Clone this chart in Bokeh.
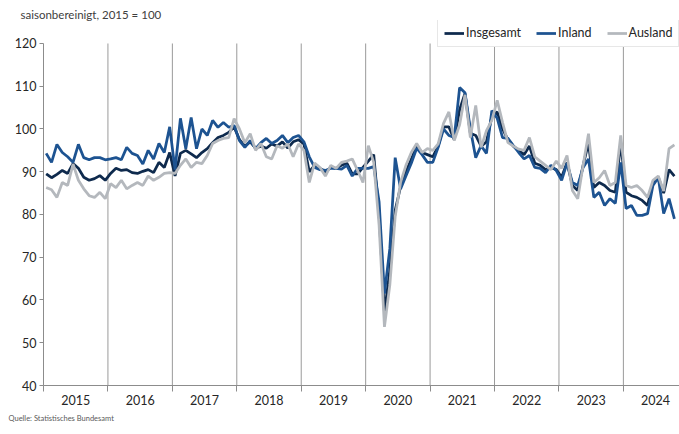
from bokeh.plotting import figure
from bokeh.models import Range1d, FixedTicker, Legend, LegendItem, Title
from bokeh.embed import file_html
from bokeh.resources import INLINE

years = [str(y) for y in range(2015, 2025)]
months = [f"{y}-{m:02d}" for y in range(2015, 2025) for m in range(1, 13)][:118]

insgesamt = [
    89.5, 88.6, 89.4, 90.3, 89.6, 91.9, 90.8, 88.7, 88.0, 88.4, 89.1, 88.0,
    89.6, 90.8, 90.3, 90.5, 89.8, 89.6, 90.1, 90.5, 89.8, 92.2, 91.0, 94.5,
    89.0, 94.3, 95.0, 94.2, 93.3, 94.5, 95.4, 96.8, 98.0, 98.5, 99.2, 100.5,
    97.5, 96.0, 97.0, 95.5, 96.0, 95.5, 96.5, 96.0, 97.0, 95.5, 97.0, 97.5,
    96.5, 90.0, 91.5, 90.8, 90.0, 91.0, 90.8, 91.5, 92.0, 89.5, 89.5, 91.0,
    92.5, 94.0, 80.0, 57.0, 67.0, 81.0, 86.5, 90.0, 93.0, 96.0, 94.5, 94.0,
    93.5, 96.0, 100.5, 100.5, 97.5, 104.5, 108.3, 99.0, 98.5, 96.0, 97.0, 103.0,
    104.0, 100.0, 97.5, 96.0, 95.0, 94.0, 96.0, 92.0, 91.5, 90.5, 91.0, 90.5,
    88.7, 92.2, 86.8, 85.6, 91.5, 96.8, 86.3, 87.5, 86.8, 85.6, 85.2, 96.8,
    85.2, 84.4, 84.0, 83.3, 82.1, 87.5, 88.7, 85.0, 90.5, 89.0,
]
inland = [
    94.3, 92.2, 96.4, 94.5, 93.5, 92.2, 96.4, 93.3, 92.8, 93.3, 93.3, 92.8,
    93.0, 93.3, 92.8, 95.7, 94.3, 93.8, 91.8, 95.0, 93.0, 96.6, 94.5, 100.5,
    90.5, 102.5, 95.4, 102.7, 95.4, 100.0, 98.5, 102.0, 100.4, 101.5, 100.4, 100.8,
    97.3, 95.7, 97.3, 95.4, 96.8, 97.8, 96.6, 97.3, 98.5, 96.8, 98.0, 98.5,
    97.0, 93.5, 91.0, 90.5, 90.3, 90.8, 90.8, 90.6, 91.5, 89.0, 90.8, 90.8,
    90.8, 91.2, 83.0, 61.5, 72.0, 93.3, 86.0, 89.0, 92.0, 95.5, 94.0, 92.2,
    92.2, 95.7, 100.0, 98.5, 98.0, 109.7, 108.5, 100.0, 93.3, 96.1, 94.3, 104.3,
    102.5, 98.0, 97.8, 96.1, 94.5, 93.0, 93.8, 91.0, 90.8, 89.8, 91.5, 90.3,
    88.0, 92.0, 87.5, 86.8, 91.0, 93.0, 84.0, 85.2, 82.1, 83.7, 82.6, 92.2,
    81.4, 82.1, 79.8, 79.8, 80.2, 86.8, 88.6, 80.2, 83.7, 79.0,
]
ausland = [
    86.3, 85.8, 84.0, 87.5, 86.8, 91.8, 88.0, 86.0, 84.4, 84.0, 85.2, 83.7,
    87.2, 86.3, 88.0, 86.0, 86.8, 87.5, 86.8, 89.0, 88.0, 88.7, 89.6, 89.8,
    89.6, 91.5, 93.0, 91.0, 92.2, 91.9, 93.8, 96.6, 97.3, 97.8, 98.0, 102.4,
    100.0, 96.8, 98.9, 95.0, 96.6, 93.5, 93.0, 96.1, 95.5, 96.5, 93.5, 96.5,
    95.0, 87.5, 92.0, 91.0, 89.0, 91.5, 90.8, 92.2, 92.5, 93.0, 90.3, 87.5,
    96.1, 92.2, 77.5, 53.7, 63.5, 79.5, 87.5, 91.5, 94.5, 96.6, 94.5, 95.4,
    95.0, 96.5, 101.3, 104.0, 97.3, 101.0, 108.0, 98.0, 105.5, 95.7, 99.6, 102.0,
    106.7, 101.5, 96.8, 96.0, 95.3, 95.0, 98.0, 93.5, 92.5, 91.5, 90.5, 92.5,
    90.8, 93.8, 85.6, 83.7, 91.5, 98.9, 87.5, 88.6, 90.3, 86.8, 87.5, 98.5,
    86.8, 86.3, 86.8, 85.6, 84.0, 88.0, 89.0, 85.5, 95.4, 96.3,
]
y_ticks = [40, 50, 60, 70, 80, 90, 100, 110, 120]

x = [i + 0.5 for i in range(len(months))]
boundaries = [12 * k for k in range(len(years))]
centers = [12 * k + 6 for k in range(len(years))]
y_min, y_max = y_ticks[0], y_ticks[-1]

FONT = "Lato"

p = figure(width=679, height=434, output_backend="svg", toolbar_location=None,
           title=Title(text="saisonbereinigt, 2015 = 100", align="left",
                       offset=-23, standoff=0, text_font=FONT,
                       text_font_size="11.5px", text_font_style="normal",
                       text_color="#404040"),
           x_range=Range1d(0, 118.45), y_range=Range1d(40, 125.38),
           min_border_left=43, min_border_right=0, min_border_top=20,
           min_border_bottom=49)
p.outline_line_color = None
p.background_fill_color = "white"

# axes
p.xaxis.ticker = FixedTicker(ticks=centers, minor_ticks=boundaries)
p.xaxis.major_label_overrides = {c: y for c, y in zip(centers, years)}
p.xaxis.major_tick_line_color = None
p.xaxis.major_tick_out = 0
p.xaxis.major_tick_in = 0
p.xaxis.minor_tick_out = 6
p.xaxis.minor_tick_in = 0
p.xaxis.minor_tick_line_color = "#8c8c8c"
p.xaxis.axis_line_color = "#8c8c8c"
p.xaxis.major_label_standoff = 3
p.xaxis.major_label_text_font = FONT
p.xaxis.major_label_text_font_size = "12.5px"
p.xaxis.major_label_text_color = "#262626"

p.yaxis.ticker = FixedTicker(ticks=y_ticks)
p.yaxis.bounds = (y_min, y_max)
p.yaxis.minor_tick_line_color = None
p.yaxis.major_tick_out = 4
p.yaxis.major_tick_in = 0
p.yaxis.major_tick_line_color = "#8c8c8c"
p.yaxis.axis_line_color = "#8c8c8c"
p.yaxis.major_label_standoff = 3
p.yaxis.major_label_text_font = FONT
p.yaxis.major_label_text_font_size = "12.5px"
p.yaxis.major_label_text_color = "#262626"

p.xgrid.grid_line_color = None
p.ygrid.grid_line_color = None

# year separators between y_min and y_max
seps = boundaries[1:]
p.segment(x0=seps, y0=[y_min] * len(seps), x1=seps, y1=[y_max] * len(seps),
          line_color="#9a9a9a", line_width=1)

r1 = p.line(x, insgesamt, line_color="#0e2a4d", line_width=2.75)
r2 = p.line(x, inland, line_color="#1d5391", line_width=2.75)
r3 = p.line(x, ausland, line_color="#b4b8bd", line_width=2.75)

legend = Legend(items=[LegendItem(label="Insgesamt", renderers=[r1]),
                       LegendItem(label="Inland", renderers=[r2]),
                       LegendItem(label="Ausland", renderers=[r3])],
                orientation="horizontal", location=(394, 338),
                label_text_font=FONT, label_text_font_size="12.5px",
                label_text_color="#262626",
                glyph_width=20, glyph_height=12, label_standoff=2,
                spacing=15, padding=6, margin=0,
                border_line_color="#d0d0d0",
                background_fill_color="white", background_fill_alpha=1.0)
p.add_layout(legend)

p.add_layout(Title(text="Quelle: Statistisches Bundesamt", align="left",
                   offset=-35, standoff=9, text_font=FONT,
                   text_font_size="7.5px", text_font_style="normal",
                   text_color="#595959"), "below")

open("out.html", "w").write(file_html(p, INLINE))
